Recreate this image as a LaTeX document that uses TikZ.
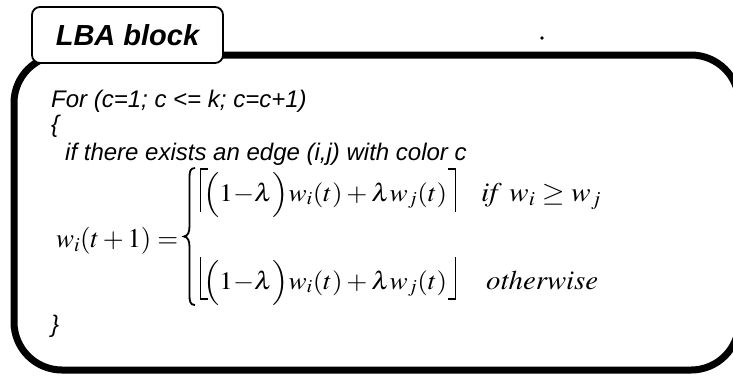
\documentclass[tikz,border=0pt]{standalone}
\usepackage{graphicx}
\usepackage{mathptmx}
\usepackage{fontspec}
\setmainfont{Liberation Serif}
\newfontfamily\arialf{Liberation Sans}
\newcommand{\fitw}[2]{\resizebox{#1}{\height}{#2}}
\newcommand{\tallpar}[1]{{\left(\vcenter{\hbox{\rule{0pt}{36pt}}}#1\right)}}
\begin{document}
\begin{tikzpicture}[x=1pt,y=-1pt,
  outline/.style={line width=7pt, rounded corners=48pt},
  lbabox/.style={draw, line width=1.8pt, rounded corners=8pt, fill=white,
    minimum width=191pt, minimum height=56pt, inner sep=0pt,
    font=\arialf\bfseries\itshape\fontsize{29}{32}\selectfont},
  codeline/.style={anchor=base west, inner sep=0pt,
    font=\arialf\itshape\fontsize{24}{28}\selectfont},
  mathline/.style={anchor=base west, inner sep=0pt,
    font=\fontsize{27}{32}\selectfont},
  rowline/.style={anchor=base west, inner sep=0pt,
    font=\fontsize{25}{29}\selectfont},
  delim/.style={line width=1.8pt, line cap=butt}
]
\useasboundingbox (0,0) rectangle (733,376);
\fill[white] (0,0) rectangle (733,376);
\draw[outline] (14,55) rectangle (739,370);
\node[lbabox] (lba) at (127.5,35) {LBA block};
\node[codeline] (forl) at (51,107) {For (c=1; c <= k; c=c+1)};
\node[codeline] (open) at (51,132) {\{};
\node[codeline] (ifl) at (65,160) {if there exists an edge (i,j) with color c};
\node[mathline] (lhs) at (56,247) {\fitw{122pt}{$w_i(t+1) =$}};
% big brace
\draw[line width=1.8pt] (195,168) .. controls (190,168) and (189.5,172) .. (189.5,178)
  -- (189.5,226) .. controls (189.5,232) and (188,236) .. (184,236.5)
  .. controls (188,237) and (189.5,241) .. (189.5,247)
  -- (189.5,295) .. controls (189.5,301) and (190,305) .. (195,305);
% ceiling and floor brackets
\draw[delim] (208,168.9) -- (200.5,168.9) -- (200.5,212);
\draw[delim] (448,168.9) -- (455.5,168.9) -- (455.5,212);
\draw[delim] (200.5,257) -- (200.5,299.1) -- (208,299.1);
\draw[delim] (455.5,257) -- (455.5,299.1) -- (448,299.1);
\node[rowline] (row1) at (203,201) {\fitw{244pt}{$\tallpar{1{-}\lambda}w_i(t) + \lambda w_j(t)$}};
\node[mathline] (cond1) at (481,201) {\fitw{120pt}{$\mathit{if}\ w_i \geq w_j$}};
\node[rowline] (row2) at (203,289) {\fitw{244pt}{$\tallpar{1{-}\lambda}w_i(t) + \lambda w_j(t)$}};
\node[mathline] (cond2) at (486,289) {\fitw{112pt}{$\mathit{otherwise}$}};
\node[codeline] (close) at (51,332) {\}};
\fill (542,38) circle (1.8pt);
\end{tikzpicture}
\end{document}
